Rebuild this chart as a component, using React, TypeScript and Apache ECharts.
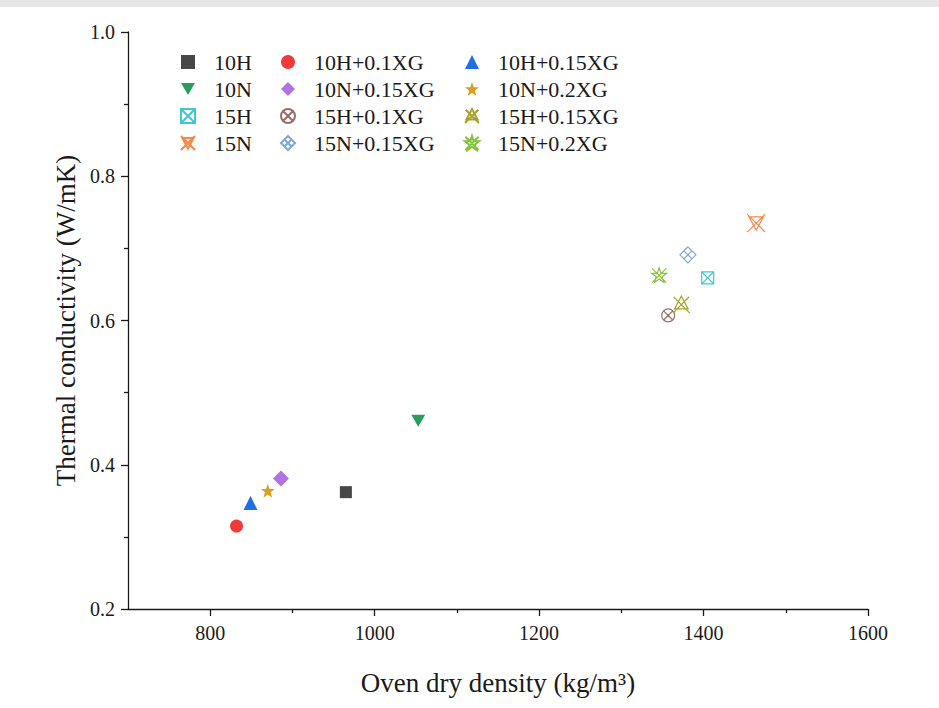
import React, { useEffect, useRef } from "react";
import * as echarts from "echarts";

// Mixture labels, plotted one point per mixture
const categories = [
  "10H", "10H+0.1XG", "10H+0.15XG",
  "10N", "10N+0.15XG", "10N+0.2XG",
  "15H", "15H+0.1XG", "15H+0.15XG",
  "15N", "15N+0.15XG", "15N+0.2XG",
];

// Oven dry density (kg/m3)
const densities = [965, 832, 849, 1053, 886, 870, 1405, 1357, 1373, 1464, 1381, 1346];

// Thermal conductivity (W/mK)
const conductivities = [0.362, 0.315, 0.347, 0.461, 0.381, 0.364, 0.659, 0.607, 0.622, 0.735, 0.691, 0.663];

// Axis ticks
const xMajorTicks = [800, 1000, 1200, 1400, 1600];
const xMinorTicks = [900, 1100, 1300, 1500];

// Marker outlines
const STAR = "M10 0 L12.35 7.24 L19.51 7.24 L13.8 11.71 L15.88 19 L10 14.6 L4.12 19 L6.2 11.71 L0.49 7.24 L7.65 7.24 Z";
const TRI_DOWN = "path://M0 0 L20 0 L10 17 Z";
const SQUARE_X = "path://M0 0 L20 0 L20 20 L0 20 Z M0 0 L20 20 M20 0 L0 20";
const CIRCLE_X = "path://M20 10 A10 10 0 1 1 0 10 A10 10 0 1 1 20 10 Z M2.93 2.93 L17.07 17.07 M17.07 2.93 L2.93 17.07";
const TRI_UP_X = "path://M10 0 L18 15 L2 15 Z M1 1 L20 20 M19 1 L0 20";
const TRI_DOWN_X = "path://M2 3 L18 3 L10 18 Z M0 0 L20 20 M20 0 L0 20";
const DIAMOND_X = "path://M10 0 L20 10 L10 20 L0 10 Z M5 5 L15 15 M15 5 L5 15";
const STAR_X = "path://" + STAR + " M1 1 L19 19 M19 1 L1 19";

type Marker = { symbol: string; size: number; color: string; filled: boolean };

const markers: Marker[] = [
  { symbol: "rect", size: 12, color: "#474747", filled: true },
  { symbol: "circle", size: 13, color: "#f03a3a", filled: true },
  { symbol: "triangle", size: 14, color: "#1f6fe3", filled: true },
  { symbol: TRI_DOWN, size: 14, color: "#2a9d5c", filled: true },
  { symbol: "diamond", size: 16, color: "#b073e3", filled: true },
  { symbol: "path://" + STAR, size: 14, color: "#d6a01a", filled: true },
  { symbol: SQUARE_X, size: 12, color: "#3cc6d6", filled: false },
  { symbol: CIRCLE_X, size: 13, color: "#9b6b6b", filled: false },
  { symbol: TRI_UP_X, size: 17, color: "#a5a32a", filled: false },
  { symbol: TRI_DOWN_X, size: 18, color: "#f7884a", filled: false },
  { symbol: DIAMOND_X, size: 16, color: "#7fa6df", filled: false },
  { symbol: STAR_X, size: 15, color: "#86c33c", filled: false },
];

const FONT = "'Liberation Serif', 'Times New Roman', serif";
const INK = "#1a1a1a";

export default function App() {
  const ref = useRef<HTMLDivElement>(null);

  useEffect(() => {
    if (!ref.current) return;
    const chart = echarts.init(ref.current, undefined, { renderer: "svg" });

    const series = categories.map((name, i) => {
      const m = markers[i];
      return {
        type: "scatter",
        name,
        xAxisIndex: 0,
        yAxisIndex: 0,
        data: [[densities[i], conductivities[i]]],
        symbol: m.symbol,
        symbolSize: m.size,
        symbolKeepAspect: true,
        itemStyle: m.filled
          ? { color: m.color, opacity: 1 }
          : { color: "rgba(0,0,0,0)", borderColor: m.color, borderWidth: 1.2, opacity: 1 },
      };
    });

    const legendBase = {
      orient: "vertical",
      top: 46,
      itemWidth: 14,
      itemHeight: 14,
      itemGap: 5,
      textStyle: { fontFamily: FONT, fontSize: 22, color: INK, padding: [0, 0, 0, 14] },
      selectedMode: false,
    };

    const tickLabel = { fontFamily: FONT, fontSize: 20, color: INK };

    chart.setOption({
      animation: false,
      backgroundColor: "#ffffff",
      textStyle: { fontFamily: FONT },
      grid: { left: 128, right: 71, top: 32, bottom: 99 },
      graphic: [
        { type: "rect", shape: { x: 0, y: 0, width: 939, height: 7 }, style: { fill: "#e6e6e6" }, silent: true },
      ],
      legend: [
        { ...legendBase, left: 175, data: categories.filter((_, i) => i % 3 === 0) },
        { ...legendBase, left: 275, data: categories.filter((_, i) => i % 3 === 1) },
        { ...legendBase, left: 459, data: categories.filter((_, i) => i % 3 === 2) },
      ],
      xAxis: [
        {
          type: "value",
          position: "bottom",
          min: 700,
          max: 1600,
          name: "Oven dry density (kg/m³)",
          nameLocation: "middle",
          nameGap: 60,
          nameTextStyle: { fontFamily: FONT, fontSize: 27, color: INK },
          axisLine: { show: true, lineStyle: { color: INK, width: 1.3 } },
          axisTick: { show: true, inside: false, length: 7, customValues: xMajorTicks, lineStyle: { color: INK, width: 1.3 } },
          axisLabel: {
            show: true,
            customValues: xMajorTicks,
            margin: 14,
            ...tickLabel,
            formatter: (v: number) => String(v),
          },
          splitLine: { show: false },
        },
        {
          type: "value",
          position: "bottom",
          min: 700,
          max: 1600,
          axisLine: { show: false },
          axisTick: { show: true, inside: false, length: 4, customValues: xMinorTicks, lineStyle: { color: INK, width: 1.3 } },
          axisLabel: { show: false },
          splitLine: { show: false },
        },
      ],
      yAxis: {
        type: "value",
        min: 0.2,
        max: 1.0,
        interval: 0.2,
        name: "Thermal conductivity (W/mK)",
        nameLocation: "middle",
        nameGap: 46,
        nameTextStyle: { fontFamily: FONT, fontSize: 27, color: INK },
        axisLine: { show: true, lineStyle: { color: INK, width: 1.3 } },
        axisTick: { show: true, inside: false, length: 7, lineStyle: { color: INK, width: 1.3 } },
        minorTick: { show: true, splitNumber: 2, length: 4, lineStyle: { color: INK, width: 1.3 } },
        axisLabel: {
          margin: 13,
          ...tickLabel,
          formatter: (v: number) => v.toFixed(1),
        },
        splitLine: { show: false },
      },
      series,
    });

    return () => chart.dispose();
  }, []);

  return (
    <div
      ref={ref}
      style={{ position: "fixed", left: 0, top: 0, width: 939, height: 708, background: "#fff" }}
    />
  );
}
